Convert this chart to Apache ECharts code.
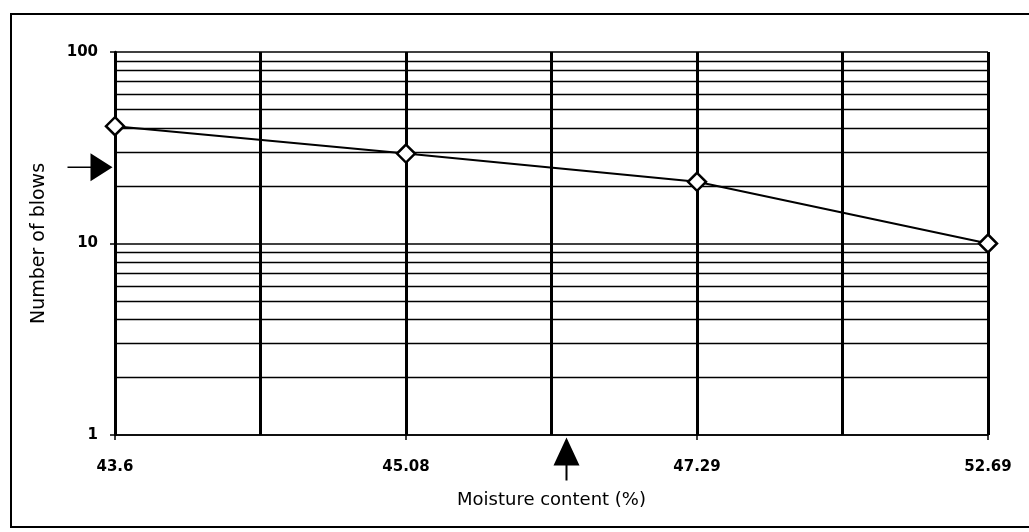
<!DOCTYPE html>
<html>
<head>
<meta charset="utf-8">
<script src="https://cdn.jsdelivr.net/npm/echarts@6/dist/echarts.min.js"></script>
<style>
  html, body { margin: 0; padding: 0; background: #fff; }
  #chart { width: 1029px; height: 532px; }
</style>
</head>
<body>
<div id="chart"></div>
<script>
// x axis: moisture content labels, blank slots are the half-way grid lines
const categories = ['43.6', '', '45.08', '', '47.29', '', '52.69'];
// [category index, number of blows]
const blows = [[0, 41], [2, 29.5], [4, 21], [6, 10]];
// minor log grid lines
const minorLines = [2, 3, 4, 5, 6, 7, 8, 9, 20, 30, 40, 50, 60, 70, 80, 90];
// 25 blows marker and the liquid limit marker
const targetBlows = [[0, 25]];
const liquidLimit = [[3, 1]];

const chart = echarts.init(document.getElementById('chart'));
const font = 'DejaVu Sans, sans-serif';

chart.setOption({
  backgroundColor: '#fff',
  animation: false,
  graphic: [
    {
      type: 'rect',
      shape: { x: 11, y: 14, width: 1040, height: 513 },
      style: { fill: 'none', stroke: '#000', lineWidth: 2 },
      silent: true
    }
  ],
  grid: { left: 115, right: 41, top: 52, bottom: 97 },
  xAxis: {
    type: 'category',
    data: categories,
    boundaryGap: false,
    name: 'Moisture content (%)',
    nameLocation: 'middle',
    nameGap: 56,
    nameTextStyle: { fontFamily: font, fontSize: 18, color: '#000' },
    axisLine: { lineStyle: { color: '#000', width: 1.5 } },
    axisTick: {
      show: true,
      length: 5,
      interval: (i) => i % 2 === 0,
      lineStyle: { color: '#000', width: 1.5 }
    },
    axisLabel: {
      interval: 0,
      margin: 25,
      fontFamily: font,
      fontSize: 15,
      fontWeight: 'bold',
      color: '#000'
    },
    splitLine: {
      show: true,
      interval: 0,
      lineStyle: { color: '#000', width: 3 }
    }
  },
  yAxis: {
    type: 'log',
    logBase: 10,
    min: 1,
    max: 100,
    name: 'Number of blows',
    nameLocation: 'middle',
    nameGap: 66,
    nameTextStyle: { fontFamily: font, fontSize: 19, color: '#000' },
    axisLine: { show: true, lineStyle: { color: '#000', width: 2.5 } },
    axisTick: { show: true, length: 5, lineStyle: { color: '#000', width: 1.5 } },
    axisLabel: {
      margin: 17,
      fontFamily: font,
      fontSize: 15,
      fontWeight: 'bold',
      color: '#000'
    },
    splitLine: { show: true, lineStyle: { color: '#000', width: 1.5 } }
  },
  series: [
    {
      type: 'line',
      data: blows,
      symbol: 'diamond',
      symbolSize: 18,
      showAllSymbol: true,
      itemStyle: { color: '#fff', borderColor: '#000', borderWidth: 2.5 },
      lineStyle: { color: '#000', width: 2 },
      z: 5,
      markLine: {
        silent: true,
        symbol: 'none',
        label: { show: false },
        lineStyle: { color: '#000', width: 1.3, type: 'solid' },
        data: minorLines.map((v) => ({ yAxis: v }))
      }
    },
    {
      type: 'scatter',
      data: targetBlows,
      clip: false,
      symbol: 'path://M0,13.2 L23,13.2 L23,14.8 L0,14.8 Z M23,0 L45,14 L23,28 Z',
      symbolSize: [45, 28],
      symbolOffset: [-25, 0],
      itemStyle: { color: '#000', opacity: 1 },
      z: 6
    },
    {
      type: 'scatter',
      data: liquidLimit,
      clip: false,
      symbol: 'path://M0,28 L13,0 L26,28 Z M12,28 L14,28 L14,43 L12,43 Z',
      symbolSize: [26, 43],
      symbolOffset: [15, 24],
      itemStyle: { color: '#000', opacity: 1 },
      z: 6
    }
  ]
});
</script>
</body>
</html>
